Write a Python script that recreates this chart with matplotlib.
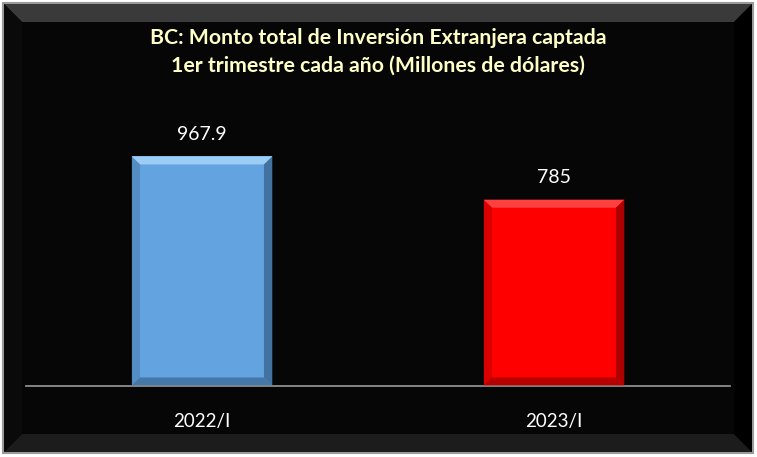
import matplotlib
matplotlib.use('Agg')
import matplotlib.pyplot as plt
from matplotlib.patches import Rectangle, Polygon
import numpy as np

# Data
categories = ['2022/I', '2023/I']
values = [967.9, 785]
value_labels = ['967.9', '785']
bar_colors = ['#62A3E0', '#FE0000']
bevel_light = ['#9CCDF5', '#FF4040']
bevel_dark = ['#3A6690', '#9A0000']
title = 'BC: Monto total de Inversión Extranjera captada\n1er trimestre cada año (Millones de dólares)'

W, H = 757, 457
fig = plt.figure(figsize=(W / 100, H / 100), dpi=100)
fig.patch.set_facecolor('white')

# Black framed background with a bevel
frame = fig.add_axes([0, 0, 1, 1])
frame.set_xlim(0, W)
frame.set_ylim(H, 0)
frame.axis('off')
frame.add_patch(Rectangle((3, 3), 750, 450, facecolor='#060606',
                          edgecolor='#9a9a9a', lw=1.5))
bev = 18
frame.add_patch(Polygon([(4, 4), (752, 4), (752 - bev, 4 + bev), (4 + bev, 4 + bev)],
                        closed=True, facecolor='#3a3a3a', edgecolor='none'))
frame.add_patch(Polygon([(4, 452), (752, 452), (752 - bev, 452 - bev), (4 + bev, 452 - bev)],
                        closed=True, facecolor='#1c1c1c', edgecolor='none'))
frame.add_patch(Polygon([(752, 4), (752, 452), (752 - bev, 452 - bev), (752 - bev, 4 + bev)],
                        closed=True, facecolor='#000000', edgecolor='none'))
frame.add_patch(Polygon([(4, 4), (4, 452), (4 + bev, 452 - bev), (4 + bev, 4 + bev)],
                        closed=True, facecolor='#0a0a0a', edgecolor='none'))

fig.text(378 / W, 1 - 52 / H, title, ha='center', va='center',
         color='#FFFFC8', fontsize=15.3, fontweight='bold', family='Lato',
         linespacing=1.45)

# Plot area
ax = fig.add_axes([26 / W, 1 - 385.5 / H, 704 / W, 285 / H])
ax.set_facecolor('none')
x = np.arange(len(categories))
width = 0.4
bars = ax.bar(x, values, width=width, color=bar_colors, edgecolor='none', zorder=2)
ax.set_xlim(-0.5, 1.5)
ax.set_ylim(0, 1204)

# bevel on bars
bx = 0.024
by = 34
for b, lc, dc in zip(bars, bevel_light, bevel_dark):
    x0, x1 = b.get_x(), b.get_x() + b.get_width()
    y1 = b.get_height()
    ax.add_patch(Polygon([(x0, y1), (x1, y1), (x1 - bx, y1 - by), (x0 + bx, y1 - by)],
                         closed=True, facecolor=lc, edgecolor='none', zorder=3))
    ax.add_patch(Polygon([(x1, y1), (x1, 0), (x1 - bx, by), (x1 - bx, y1 - by)],
                         closed=True, facecolor=dc, edgecolor='none', alpha=0.8, zorder=3))
    ax.add_patch(Polygon([(x0, 0), (x1, 0), (x1 - bx, by), (x0 + bx, by)],
                         closed=True, facecolor=dc, edgecolor='none', alpha=0.7, zorder=3))
    ax.add_patch(Polygon([(x0, 0), (x0, y1), (x0 + bx, y1 - by), (x0 + bx, by)],
                         closed=True, facecolor=dc, edgecolor='none', alpha=0.35, zorder=3))

for xi, v, lab in zip(x, values, value_labels):
    ax.annotate(lab, (xi, v), xytext=(0, 16), textcoords='offset points',
                ha='center', va='center', color='white', fontsize=14, family='Lato')

ax.set_xticks(x)
ax.set_xticklabels(categories, color='white', fontsize=13.5, family='Lato')
ax.tick_params(axis='x', length=0, pad=20)
ax.set_yticks([])
for s in ['top', 'right', 'left']:
    ax.spines[s].set_visible(False)
ax.spines['bottom'].set_color('#999999')
ax.spines['bottom'].set_linewidth(1.2)

fig.savefig('out.png', dpi=100, facecolor=fig.get_facecolor())
